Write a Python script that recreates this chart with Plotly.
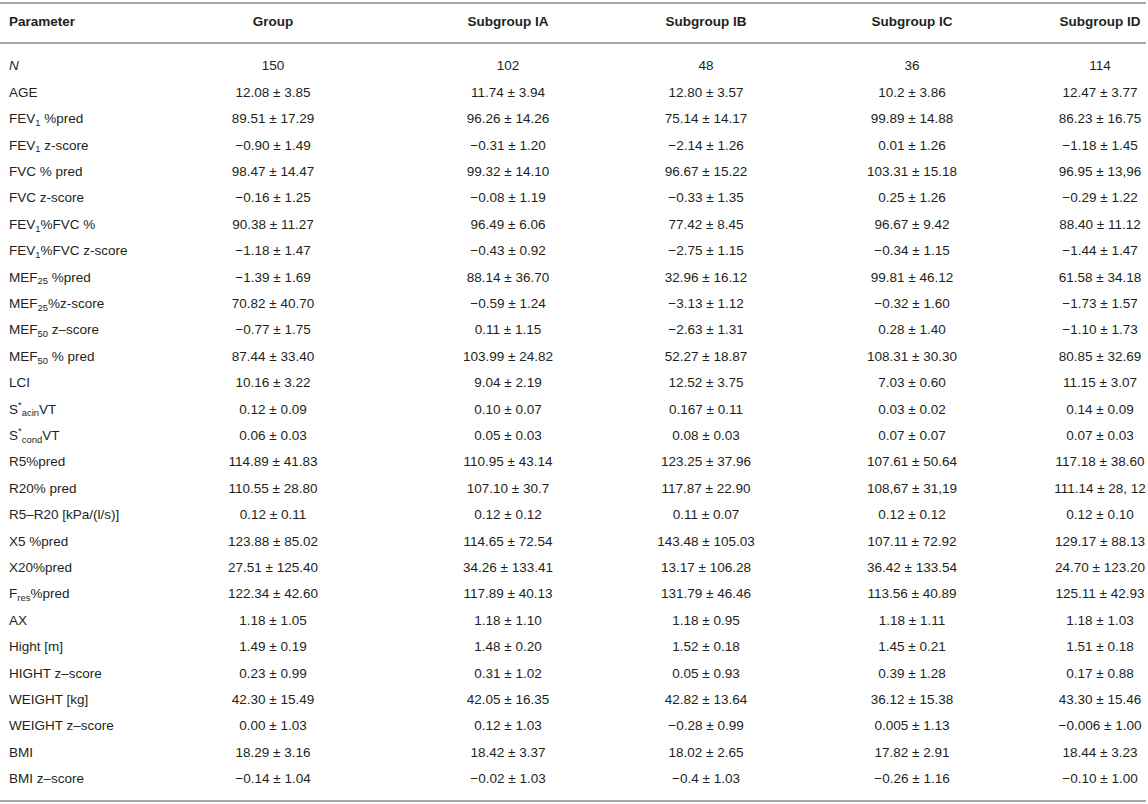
import plotly.graph_objects as go

HEADERS = ["Parameter", "Group", "Subgroup IA", "Subgroup IB", "Subgroup IC", "Subgroup ID"]

PARAMETERS = [
    "<i>N</i>", "AGE", "FEV<sub>1</sub> %pred", "FEV<sub>1</sub> z-score", "FVC % pred",
    "FVC z-score", "FEV<sub>1</sub>%FVC %", "FEV<sub>1</sub>%FVC z-score",
    "MEF<sub>25</sub> %pred", "MEF<sub>25</sub>%z-score", "MEF<sub>50</sub> z–score",
    "MEF<sub>50</sub> % pred", "LCI", "S<sup>*</sup><sub>acin</sub>VT", "S<sup>*</sup><sub>cond</sub>VT",
    "R5%pred", "R20% pred", "R5–R20 [kPa/(l/s)]", "X5 %pred", "X20%pred",
    "F<sub>res</sub>%pred", "AX", "Hight [m]", "HIGHT z–score", "WEIGHT [kg]",
    "WEIGHT z–score", "BMI", "BMI z–score",
]

GROUP = [
    "150", "12.08 ± 3.85", "89.51 ± 17.29", "−0.90 ± 1.49", "98.47 ± 14.47",
    "−0.16 ± 1.25", "90.38 ± 11.27", "−1.18 ± 1.47", "−1.39 ± 1.69", "70.82 ± 40.70",
    "−0.77 ± 1.75", "87.44 ± 33.40", "10.16 ± 3.22", "0.12 ± 0.09", "0.06 ± 0.03",
    "114.89 ± 41.83", "110.55 ± 28.80", "0.12 ± 0.11", "123.88 ± 85.02", "27.51 ± 125.40",
    "122.34 ± 42.60", "1.18 ± 1.05", "1.49 ± 0.19", "0.23 ± 0.99", "42.30 ± 15.49",
    "0.00 ± 1.03", "18.29 ± 3.16", "−0.14 ± 1.04",
]

SUB_IA = [
    "102", "11.74 ± 3.94", "96.26 ± 14.26", "−0.31 ± 1.20", "99.32 ± 14.10",
    "−0.08 ± 1.19", "96.49 ± 6.06", "−0.43 ± 0.92", "88.14 ± 36.70", "−0.59 ± 1.24",
    "0.11 ± 1.15", "103.99 ± 24.82", "9.04 ± 2.19", "0.10 ± 0.07", "0.05 ± 0.03",
    "110.95 ± 43.14", "107.10 ± 30.7", "0.12 ± 0.12", "114.65 ± 72.54", "34.26 ± 133.41",
    "117.89 ± 40.13", "1.18 ± 1.10", "1.48 ± 0.20", "0.31 ± 1.02", "42.05 ± 16.35",
    "0.12 ± 1.03", "18.42 ± 3.37", "−0.02 ± 1.03",
]

SUB_IB = [
    "48", "12.80 ± 3.57", "75.14 ± 14.17", "−2.14 ± 1.26", "96.67 ± 15.22",
    "−0.33 ± 1.35", "77.42 ± 8.45", "−2.75 ± 1.15", "32.96 ± 16.12", "−3.13 ± 1.12",
    "−2.63 ± 1.31", "52.27 ± 18.87", "12.52 ± 3.75", "0.167 ± 0.11", "0.08 ± 0.03",
    "123.25 ± 37.96", "117.87 ± 22.90", "0.11 ± 0.07", "143.48 ± 105.03", "13.17 ± 106.28",
    "131.79 ± 46.46", "1.18 ± 0.95", "1.52 ± 0.18", "0.05 ± 0.93", "42.82 ± 13.64",
    "−0.28 ± 0.99", "18.02 ± 2.65", "−0.4 ± 1.03",
]

SUB_IC = [
    "36", "10.2 ± 3.86", "99.89 ± 14.88", "0.01 ± 1.26", "103.31 ± 15.18",
    "0.25 ± 1.26", "96.67 ± 9.42", "−0.34 ± 1.15", "99.81 ± 46.12", "−0.32 ± 1.60",
    "0.28 ± 1.40", "108.31 ± 30.30", "7.03 ± 0.60", "0.03 ± 0.02", "0.07 ± 0.07",
    "107.61 ± 50.64", "108,67 ± 31,19", "0.12 ± 0.12", "107.11 ± 72.92", "36.42 ± 133.54",
    "113.56 ± 40.89", "1.18 ± 1.11", "1.45 ± 0.21", "0.39 ± 1.28", "36.12 ± 15.38",
    "0.005 ± 1.13", "17.82 ± 2.91", "−0.26 ± 1.16",
]

SUB_ID = [
    "114", "12.47 ± 3.77", "86.23 ± 16.75", "−1.18 ± 1.45", "96.95 ± 13,96",
    "−0.29 ± 1.22", "88.40 ± 11.12", "−1.44 ± 1.47", "61.58 ± 34.18", "−1.73 ± 1.57",
    "−1.10 ± 1.73", "80.85 ± 32.69", "11.15 ± 3.07", "0.14 ± 0.09", "0.07 ± 0.03",
    "117.18 ± 38.60", "111.14 ± 28, 12", "0.12 ± 0.10", "129.17 ± 88.13", "24.70 ± 123.20",
    "125.11 ± 42.93", "1.18 ± 1.03", "1.51 ± 0.18", "0.17 ± 0.88", "43.30 ± 15.46",
    "−0.006 ± 1.00", "18.44 ± 3.23", "−0.10 ± 1.00",
]

COLUMNS = [PARAMETERS, GROUP, SUB_IA, SUB_IB, SUB_IC, SUB_ID]

# layout: column anchors in pixels, rows are indices on a reversed y axis
COL_X = [9, 273, 508, 706, 912, 1100]
HEADER_Y = -1.667
RULES_Y = [-2.424, -0.909, 27.80]
FONT = "Liberation Sans, Arial, sans-serif"
TXT = "#231f20"
RULE = "#a8a8a8"
SIZE = 13.5

fig = go.Figure()
rows = list(range(len(PARAMETERS)))

for j, col in enumerate(COLUMNS):
    pos = "middle right" if j == 0 else "middle center"
    fig.add_trace(go.Scatter(
        x=[COL_X[j]] * len(col), y=rows, text=col, mode="text",
        textposition=pos, textfont=dict(family=FONT, size=SIZE, color=TXT),
        hoverinfo="skip", showlegend=False,
    ))
    fig.add_trace(go.Scatter(
        x=[COL_X[j]], y=[HEADER_Y], text=[f"<b>{HEADERS[j]}</b>"], mode="text",
        textposition=pos, textfont=dict(family=FONT, size=SIZE, color=TXT),
        hoverinfo="skip", showlegend=False,
    ))

for yy in RULES_Y:
    fig.add_shape(type="line", xref="x", yref="y", x0=0, x1=1146, y0=yy, y1=yy,
                  line=dict(color=RULE, width=2))

fig.update_layout(
    width=1148, height=804,
    margin=dict(l=0, r=0, t=0, b=0),
    paper_bgcolor="white", plot_bgcolor="white",
    xaxis=dict(range=[0, 1148], visible=False, fixedrange=True),
    yaxis=dict(range=[27.917, -2.538], visible=False, fixedrange=True),
)

# drop the default 8px page margin so the figure sits at the window corner
fig.write_html("out.html", config={"displayModeBar": False},
               post_script="document.body.style.margin='0';")
